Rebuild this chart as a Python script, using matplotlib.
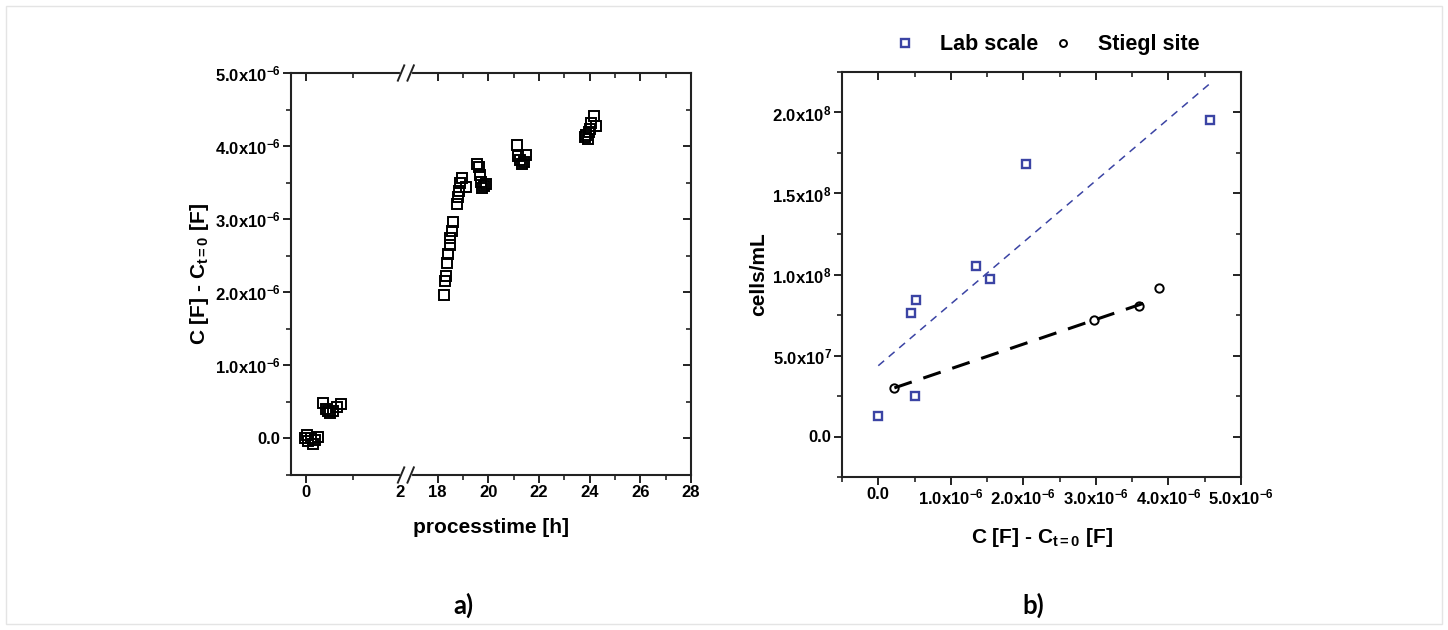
import numpy as np
import matplotlib
matplotlib.use('Agg')
import matplotlib.pyplot as plt
from matplotlib.ticker import FixedLocator, MultipleLocator, FuncFormatter, NullFormatter
from matplotlib.lines import Line2D
from matplotlib.patches import Rectangle

plt.rcParams['font.family'] = ['Liberation Sans', 'DejaVu Sans']
plt.rcParams['font.weight'] = 'bold'
plt.rcParams['mathtext.fontset'] = 'custom'
plt.rcParams['mathtext.rm'] = 'Liberation Sans:bold'
plt.rcParams['mathtext.it'] = 'Liberation Sans:bold:italic'
plt.rcParams['mathtext.bf'] = 'Liberation Sans:bold'
plt.rcParams['mathtext.default'] = 'rm'

# a) capacitance change over process time (h, F)
t_proc = [-0.02, 0.01, 0.05, 0.10, 0.14, 0.19, 0.26,
          0.37, 0.43, 0.46, 0.50, 0.57, 0.65, 0.74,
          18.24, 18.28, 18.34, 18.37, 18.42, 18.47, 18.50, 18.57, 18.61,
          18.77, 18.80, 18.84, 18.89, 18.98, 19.11,
          19.57, 19.62, 19.68, 19.72, 19.76, 19.81, 19.91,
          21.12, 21.16, 21.25, 21.32, 21.41, 21.49,
          23.83, 23.87, 23.94, 23.98, 24.03, 24.07, 24.16, 24.24]
dc_proc = [0.00, 0.05, -0.04, 0.00, -0.07, -0.02, 0.02,
           0.48, 0.40, 0.37, 0.35, 0.38, 0.43, 0.47,
           1.96, 2.16, 2.22, 2.40, 2.52, 2.65, 2.74, 2.84, 2.96,
           3.21, 3.30, 3.38, 3.50, 3.56, 3.44,
           3.76, 3.72, 3.60, 3.51, 3.42, 3.46, 3.48,
           4.01, 3.87, 3.81, 3.76, 3.78, 3.88,
           4.12, 4.15, 4.10, 4.19, 4.24, 4.31, 4.41, 4.27]
dc_proc = [v * 1e-6 for v in dc_proc]

# b) cell counts vs capacitance change
lab_dc = [0.0, 0.448, 0.507, 0.522, 1.345, 1.542, 2.03, 4.57]
lab_cells = [1.29e7, 7.65e7, 2.49e7, 8.42e7, 1.05e8, 9.73e7, 1.68e8, 1.954e8]
lab_dc = [v * 1e-6 for v in lab_dc]
lab_fit_x = [0.0, 4.57e-6]
lab_fit_y = [4.37e7, 2.178e8]

stiegl_dc = [0.222e-6, 2.97e-6, 3.59e-6, 3.87e-6]
stiegl_cells = [3.01e7, 7.21e7, 8.05e7, 9.15e7]
stiegl_fit_x = [0.222e-6, 3.76e-6]
stiegl_fit_y = [3.0e7, 8.38e7]

BLUE = '#3b44a4'
DARK = '#222222'

# broken time axis: 0-2 h wide, 18-28 h compressed
GAP = 0.794
R2 = 0.538


def fwd(h):
    h = np.asarray(h, dtype=float)
    return np.where(h <= 2, h, np.where(h < 18, 2 + (h - 2) * GAP / 16, 2 + GAP + (h - 18) * R2))


def inv(u):
    u = np.asarray(u, dtype=float)
    return np.where(u <= 2, u, np.where(u < 2 + GAP, 2 + (u - 2) * 16 / GAP, 18 + (u - 2 - GAP) / R2))


def sci(v, pos):
    if abs(v) < 1e-30:
        return '0.0'
    e = int(np.floor(np.log10(abs(v)) + 1e-9))
    return '%.1fx10$^{%d}$' % (v / 10 ** e, e)


def style(ax, mirror):
    for s in ax.spines.values():
        s.set_linewidth(1.5)
        s.set_color(DARK)
    ax.tick_params(which='major', length=6, width=1.4, color=DARK, labelsize=12, pad=1.5)
    ax.tick_params(which='minor', length=3.5, width=1.2, color=DARK)
    ax.tick_params(which='both', direction='out', top=False, right=False)
    mirror.tick_params(which='major', length=6, width=1.4, color=DARK, direction='in')
    mirror.tick_params(which='minor', length=3.5, width=1.2, color=DARK, direction='in')


fig = plt.figure(figsize=(14.48, 6.30), dpi=100)
W, H = 1448, 630

# faint frame of the original figure
fig.patches.append(Rectangle((6 / W, 6 / H), 1 - 12 / W, 1 - 12 / H, transform=fig.transFigure,
                             fill=False, edgecolor='#e4e4e4', lw=1.0))

# ---- a) ----
ax1 = fig.add_axes([291 / W, 1 - 475 / H, 400 / W, 402 / H])
ax1.set_xscale('function', functions=(fwd, inv))
ax1.plot(t_proc, dc_proc, ls='none', marker='s', ms=7.3, mfc='none', mec='black', mew=1.4)
ax1.set_xlim(-0.32, 28)
ax1.set_ylim(-0.5e-6, 5.0e-6)
major_t = [0, 2, 18, 20, 22, 24, 26, 28]
minor_t = [1, 19, 21, 23, 25, 27]
ax1.xaxis.set_major_locator(FixedLocator(major_t))
ax1.xaxis.set_minor_locator(FixedLocator(minor_t))
ax1.xaxis.set_major_formatter(FuncFormatter(lambda v, p: '%d' % round(v)))
ax1.xaxis.set_minor_formatter(NullFormatter())
ax1.yaxis.set_major_locator(MultipleLocator(1e-6))
ax1.yaxis.set_minor_locator(MultipleLocator(0.5e-6))
ax1.yaxis.set_major_formatter(FuncFormatter(sci))
ax1.set_xlabel('processtime [h]', fontsize=15, fontweight='bold', labelpad=13)
ax1.set_ylabel('C [F] - C$_{t=0}$ [F]', fontsize=15, fontweight='bold', labelpad=3)

top1 = ax1.twiny()
top1.set_xscale('function', functions=(fwd, inv))
top1.set_xlim(ax1.get_xlim())
top1.xaxis.set_major_locator(FixedLocator(major_t))
top1.xaxis.set_minor_locator(FixedLocator(minor_t))
top1.tick_params(labeltop=False)
right1 = ax1.twinx()
right1.set_ylim(ax1.get_ylim())
right1.yaxis.set_major_locator(MultipleLocator(1e-6))
right1.yaxis.set_minor_locator(MultipleLocator(0.5e-6))
right1.tick_params(labelright=False)
style(ax1, top1)
style(ax1, right1)
for a in (top1, right1):
    for s in a.spines.values():
        s.set_visible(False)

fig.canvas.draw()
for tk in ax1.xaxis.get_major_ticks()[1:2] + top1.xaxis.get_major_ticks()[1:2]:
    tk.tick1line.set_visible(False)
    tk.tick2line.set_visible(False)

# axis break marks on top and bottom spine
xb = ax1.transAxes.inverted().transform(ax1.transData.transform((2, 0)))[0]
for yb in (0, 1):
    ax1.plot([xb + 0.004, xb + 0.024], [yb, yb], color='white', lw=3,
             transform=ax1.transAxes, clip_on=False, zorder=5)
    for dx in (0.002, 0.026):
        ax1.plot([xb + dx - 0.008, xb + dx + 0.008], [yb - 0.019, yb + 0.019],
                 color=DARK, lw=1.4, transform=ax1.transAxes, clip_on=False, zorder=6)

# ---- b) ----
ax2 = fig.add_axes([842 / W, 1 - 477 / H, 399 / W, 405 / H])
ax2.plot(lab_fit_x, lab_fit_y, color=BLUE, lw=1.1, ls=(0, (5, 4)))
ax2.plot(stiegl_fit_x, stiegl_fit_y, color='black', lw=2.2, ls=(0, (6, 4)))
ax2.plot(lab_dc, lab_cells, ls='none', marker='s', ms=5.5, mfc='none', mec=BLUE, mew=1.7)
ax2.plot(stiegl_dc, stiegl_cells, ls='none', marker='o', ms=6, mfc='none', mec='black', mew=1.4)
ax2.set_xlim(-0.5e-6, 5.0e-6)
ax2.set_ylim(-2.5e7, 2.25e8)
ax2.xaxis.set_major_locator(MultipleLocator(1e-6))
ax2.xaxis.set_minor_locator(MultipleLocator(0.5e-6))
ax2.yaxis.set_major_locator(MultipleLocator(5e7))
ax2.yaxis.set_minor_locator(MultipleLocator(2.5e7))
ax2.xaxis.set_major_formatter(FuncFormatter(sci))
ax2.yaxis.set_major_formatter(FuncFormatter(sci))
ax2.set_xlabel('C [F] - C$_{t=0}$ [F]', fontsize=15, fontweight='bold', labelpad=13.5)
ax2.set_ylabel('cells/mL', fontsize=15, fontweight='bold', labelpad=3)

top2 = ax2.twiny()
top2.set_xlim(ax2.get_xlim())
top2.xaxis.set_major_locator(MultipleLocator(1e-6))
top2.xaxis.set_minor_locator(MultipleLocator(0.5e-6))
top2.tick_params(labeltop=False)
right2 = ax2.twinx()
right2.set_ylim(ax2.get_ylim())
right2.yaxis.set_major_locator(MultipleLocator(5e7))
right2.yaxis.set_minor_locator(MultipleLocator(2.5e7))
right2.tick_params(labelright=False)
style(ax2, top2)
style(ax2, right2)
for a in (top2, right2):
    for s in a.spines.values():
        s.set_visible(False)

handles = [Line2D([], [], ls='none', marker='s', ms=5.5, mfc='none', mec=BLUE, mew=1.7),
           Line2D([], [], ls='none', marker='o', ms=5, mfc='none', mec='black', mew=1.4)]
ax2.legend(handles, ['Lab scale', 'Stiegl site'], loc='center', bbox_to_anchor=(0.514, 1.067),
           ncol=2, frameon=False, prop={'size': 15.5, 'weight': 'bold'},
           handlelength=1.0, handletextpad=1.1, columnspacing=0.68, borderaxespad=0)

fig.text(463 / W, 1 - 605 / H, 'a)', fontsize=18.5, fontweight='bold', family=['Lato', 'DejaVu Sans'],
         ha='center', va='center')
fig.text(1033 / W, 1 - 605 / H, 'b)', fontsize=18.5, fontweight='bold', family=['Lato', 'DejaVu Sans'],
         ha='center', va='center')

fig.savefig('out.png', dpi=100)
